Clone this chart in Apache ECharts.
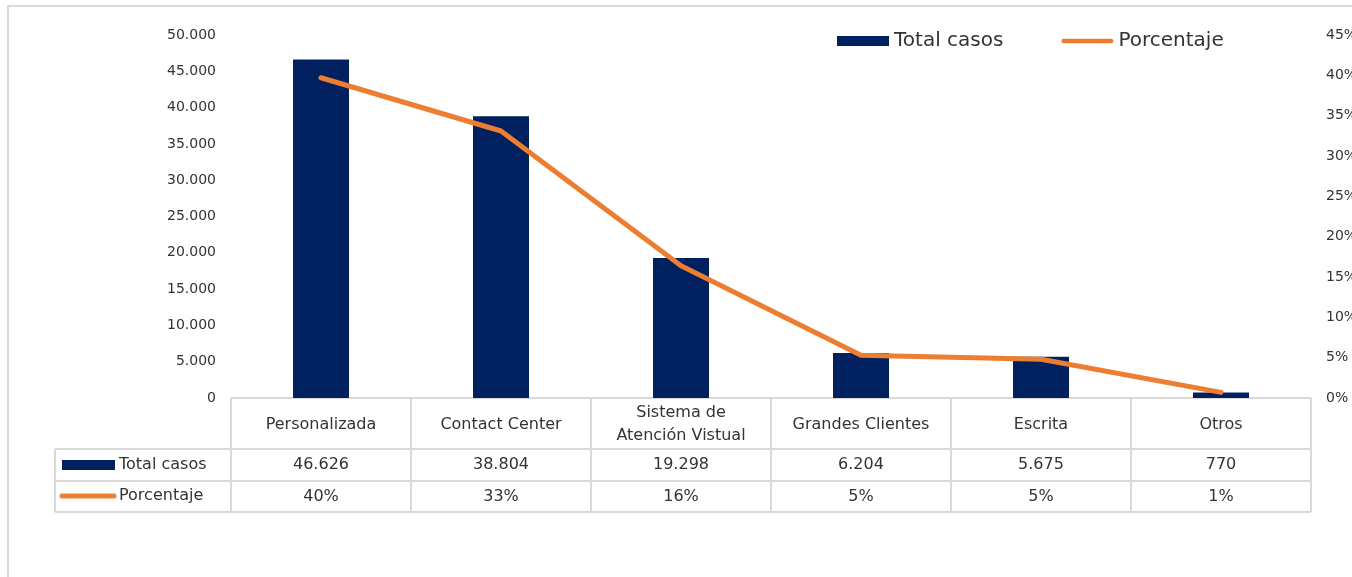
<!DOCTYPE html>
<html>
<head>
<meta charset="utf-8">
<script src="https://cdn.jsdelivr.net/npm/echarts@6/dist/echarts.min.js"></script>
<style>
  html, body { margin: 0; padding: 0; background: #fff; }
  #main { width: 1352px; height: 577px; }
</style>
</head>
<body>
<div id="main"></div>
<script>
// datos
var categorias = ['Personalizada', 'Contact Center', 'Sistema de\nAtención Vistual', 'Grandes Clientes', 'Escrita', 'Otros'];
var totalCasos = [46626, 38804, 19298, 6204, 5675, 770];
var porcentaje = [39.7, 33.1, 16.4, 5.3, 4.8, 0.7];

var fuente = 'DejaVu Sans';
var gris = '#d9d9d9';
var texto = '#333333';

// geometria del area del grafico
var gLeft = 231, gTop = 35, gRight = 41, gBottom = 179;
var gWidth = 1352 - gLeft - gRight;
var gBase = 577 - gBottom;

function miles(n) {
    return String(n).replace(/\B(?=(\d{3})+(?!\d))/g, '.');
}

// tabla de datos bajo el eje
function tablaDatos() {
    var els = [];
    var n = categorias.length;
    var cw = gWidth / n;
    var y0 = gBase, y1 = 449, y2 = 481, y3 = 512;
    var xL = 55, xR = gLeft + gWidth;
    var ln = function(x1, ya, x2, yb) {
        els.push({ type: 'line', shape: { x1: x1, y1: ya, x2: x2, y2: yb },
            style: { stroke: gris, lineWidth: 2 }, silent: true });
    };
    ln(gLeft, y0, xR, y0);
    ln(xL, y1, xR, y1);
    ln(xL, y2, xR, y2);
    ln(xL, y3, xR, y3);
    ln(xL, y1, xL, y3);
    for (var i = 0; i <= n; i++) {
        ln(gLeft + i * cw, y0, gLeft + i * cw, y3);
    }
    var txt = function(t, x, y, align) {
        els.push({ type: 'text', x: x, y: y, silent: true,
            style: { text: t, fill: texto, font: '16px ' + fuente,
                align: align || 'center', verticalAlign: 'middle', lineHeight: 23 } });
    };
    for (var j = 0; j < n; j++) {
        var cx = gLeft + j * cw + cw / 2;
        txt(categorias[j], cx, (y0 + y1) / 2 + 1);
        txt(miles(totalCasos[j]), cx, (y1 + y2) / 2);
        txt(Math.round(porcentaje[j]) + '%', cx, (y2 + y3) / 2);
    }
    // claves de la leyenda en la tabla
    els.push({ type: 'rect', shape: { x: 62, y: 460, width: 53, height: 10 },
        style: { fill: '#002060' }, silent: true });
    txt('Total casos', 119, 465, 'left');
    els.push({ type: 'line', shape: { x1: 62, y1: 496, x2: 114, y2: 496 },
        style: { stroke: '#ED7D31', lineWidth: 5, lineCap: 'round' }, silent: true });
    txt('Porcentaje', 119, 496, 'left');
    // borde exterior
    els.push({ type: 'rect', shape: { x: 8, y: 6, width: 1500, height: 700 },
        style: { fill: 'none', stroke: gris, lineWidth: 2 }, silent: true, z: -1 });
    return els;
}

var chart = echarts.init(document.getElementById('main'));

var option = {
    animation: false,
    textStyle: { fontFamily: fuente },
    grid: { left: gLeft, top: gTop, right: gRight, bottom: gBottom, containLabel: false, outerBoundsMode: 'none' },
    legend: {
        left: 832, top: 26,
        itemGap: 58,
        itemWidth: 52, itemHeight: 10,
        textStyle: { fontSize: 20, color: texto, fontFamily: fuente },
        data: [
            { name: 'Total casos', icon: 'rect' },
            { name: 'Porcentaje', icon: 'path://M2,0 L52,0 A2.5,2.5 0 0 1 52,5 L2,5 A2.5,2.5 0 0 1 2,0 Z' }
        ]
    },
    xAxis: {
        type: 'category',
        data: categorias,
        axisLine: { show: false },
        axisTick: { show: false },
        axisLabel: { show: false },
        splitLine: { show: false }
    },
    yAxis: [
        {
            type: 'value', min: 0, max: 50000, interval: 5000,
            splitLine: { show: false },
            axisLine: { show: false },
            axisTick: { show: false },
            axisLabel: { color: texto, fontSize: 14, margin: 15, formatter: function(v) { return miles(v); } }
        },
        {
            type: 'value', min: 0, max: 45, interval: 5,
            splitLine: { show: false },
            axisLine: { show: false },
            axisTick: { show: false },
            axisLabel: { color: texto, fontSize: 14, margin: 15, formatter: '{value}%' }
        }
    ],
    series: [
        {
            name: 'Total casos',
            type: 'bar',
            data: totalCasos,
            barWidth: 56,
            itemStyle: { color: '#002060' }
        },
        {
            name: 'Porcentaje',
            type: 'line',
            yAxisIndex: 1,
            data: porcentaje,
            symbol: 'none',
            lineStyle: { color: '#ED7D31', width: 5, cap: 'round', join: 'round' },
            itemStyle: { color: '#ED7D31' }
        }
    ],
    graphic: tablaDatos()
};

chart.setOption(option);
</script>
</body>
</html>
